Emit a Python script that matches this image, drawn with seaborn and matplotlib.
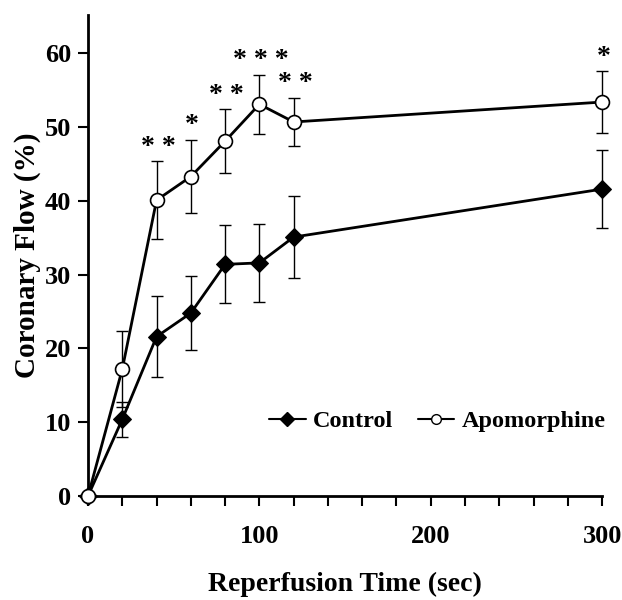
import matplotlib
matplotlib.use('Agg')
import matplotlib.pyplot as plt
import seaborn as sns
import numpy as np
import pandas as pd
from matplotlib.lines import Line2D

# 재관류 시간(sec)과 관상동맥 유량(%)
time_sec = [0, 20, 40, 60, 80, 100, 120, 300]
control_mean = [0, 10.4, 21.6, 24.8, 31.4, 31.6, 35.1, 41.6]
control_err = [0, 2.4, 5.5, 5.0, 5.3, 5.3, 5.6, 5.3]
apo_mean = [0, 17.2, 40.1, 43.3, 48.1, 53.1, 50.7, 53.4]
apo_err = [0, 5.2, 5.3, 5.0, 4.3, 4.0, 3.3, 4.2]
stars = ['', '', '* *', '*', '* *', '* * *', '* *', '*']

df = pd.DataFrame({
    'time': time_sec * 2,
    'flow': control_mean + apo_mean,
    'group': ['Control'] * len(time_sec) + ['Apomorphine'] * len(time_sec),
})

sns.set_style('ticks')
plt.rcParams['font.family'] = ['Liberation Serif', 'DejaVu Serif']
plt.rcParams['font.weight'] = 'bold'
plt.rcParams['text.color'] = 'black'
plt.rcParams['axes.labelcolor'] = 'black'
plt.rcParams['xtick.color'] = 'black'
plt.rcParams['ytick.color'] = 'black'
plt.rcParams['axes.edgecolor'] = 'black'

fig = plt.figure(figsize=(6.22, 6.0), dpi=100)
ax = fig.add_axes([0.1415, 0.1733, 0.8265, 0.8017])

# error bars first
ax.errorbar(time_sec, control_mean, yerr=control_err, fmt='none', ecolor='black',
            elinewidth=1, capsize=4, capthick=1, clip_on=False, zorder=1)
ax.errorbar(time_sec, apo_mean, yerr=apo_err, fmt='none', ecolor='black',
            elinewidth=1, capsize=4, capthick=1, clip_on=False, zorder=1)

sns.lineplot(data=df, x='time', y='flow', hue='group', style='group',
             markers={'Control': 'D', 'Apomorphine': 'o'}, dashes=False,
             palette={'Control': 'black', 'Apomorphine': 'black'},
             linewidth=2, markersize=10, ax=ax, legend=False, zorder=3)

lines = ax.get_lines()
for ln in lines:
    ln.set_clip_on(False)
lines[-2].set_markerfacecolor('black')
lines[-2].set_markeredgecolor('black')
lines[-2].set_markersize(9)
lines[-1].set_markerfacecolor('white')
lines[-1].set_markeredgecolor('black')
lines[-1].set_markeredgewidth(1.2)

# 유의성 표시
for t, m, e, s in zip(time_sec, apo_mean, apo_err, stars):
    if s:
        ax.annotate(s, xy=(t, m + e), xytext=(1, 1), textcoords='offset points',
                    ha='center', va='bottom', fontsize=20, fontweight='bold')

ax.set_xlim(0, 300)
ax.set_ylim(0, 65.2)
ax.set_xticks([0, 100, 200, 300])
ax.set_xticks(np.arange(0, 301, 20), minor=True)
ax.set_yticks([0, 10, 20, 30, 40, 50, 60])
ax.tick_params(axis='both', which='major', length=7, width=1.5, labelsize=19, direction='out')
ax.tick_params(axis='x', which='major', pad=14)
ax.tick_params(axis='x', which='minor', length=7, width=1.5)
ax.tick_params(axis='y', pad=5)
for lab in ax.get_xticklabels() + ax.get_yticklabels():
    lab.set_fontweight('bold')

ax.spines['top'].set_visible(False)
ax.spines['right'].set_visible(False)
ax.spines['left'].set_linewidth(2)
ax.spines['bottom'].set_linewidth(2)

ax.set_xlabel('Reperfusion Time (sec)', fontsize=20, fontweight='bold', labelpad=17)
ax.set_ylabel('Coronary Flow (%)', fontsize=21, fontweight='bold', labelpad=3)

h1 = Line2D([], [], color='black', lw=1.5, marker='D', markersize=7, markerfacecolor='black')
h2 = Line2D([], [], color='black', lw=1.5, marker='o', markersize=7,
            markerfacecolor='white', markeredgecolor='black')
ax.legend([h1, h2], ['Control', 'Apomorphine'], ncol=2, frameon=False,
          loc='center left', bbox_to_anchor=(0.31, 0.155), handlelength=1.5,
          handletextpad=0.3, columnspacing=1.0, prop={'size': 17.5, 'weight': 'bold'})

fig.savefig('out.png', dpi=100)
